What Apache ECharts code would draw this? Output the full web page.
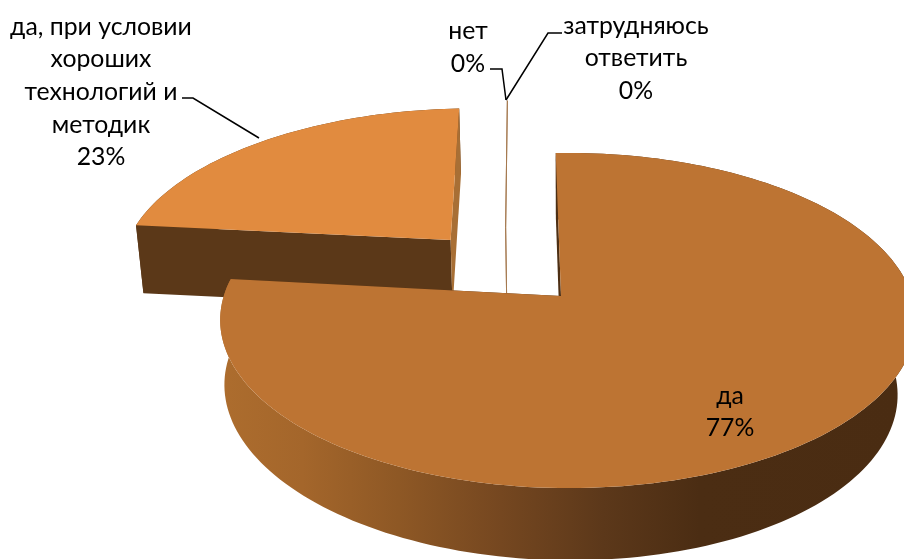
<!DOCTYPE html>
<html><head><meta charset="utf-8">
<style>html,body{margin:0;padding:0;background:#fff}#c{width:904px;height:559px}</style>
<script src="https://cdn.jsdelivr.net/npm/echarts@6/dist/echarts.min.js"></script>
</head><body><div id="c"></div>
<script>
const categories = ['да', 'да, при условии\nхороших\nтехнологий и\nметодик', 'нет', 'затрудняюсь\nответить'];
const values = [77, 23, 0, 0];

// layout
const topColors = ['#bd7433', '#e18b3f', '#a5794f', '#a5794f'];
const offsets = [[0,0],[-0.34,0.362],[-0.172,0.448],[-0.172,0.448]];
const radii = [1,1.02,1,1];
const bottomA = [333,338,338,338];
const bottomQ = [0,-0.02,-0.02,-0.02];
const bottomTilt = [5,0,0,0];
const labelPos = [[730,412],[101,92],[468,47.5],[636,58.5]];
const leaders = [null,[[182,98],[193,98],[259,138]],[[490,69],[502,69],[506,100]],[[562,33],[548,33],[506,100]]];
const CX=561, CY=296, A=344, B=164, P=0.146, Q=-0.02, B2=166.7, CY2=365, START=-1;
const total = values.reduce((a,b)=>a+b,0);
const pTop=(u,v)=>{const w=1+P*v+Q*u;return [CX+A*u/w, CY-B*v/w];};
const pBot=(u,v,i)=>{const w=1+P*v+bottomQ[i]*u;return [CX+bottomA[i]*u/w, CY2-B2*v/w+bottomTilt[i]*u/w];};

function sweep(i){
  let s=0; for(let k=0;k<i;k++) s+=values[k];
  return [START+360*s/total, START+360*(s+values[i])/total];
}
const wallGrad = new echarts.graphic.LinearGradient(220,0,905,0,[
  {offset:0,color:'#ad6d2e'},{offset:0.12,color:'#a4662b'},{offset:0.26,color:'#8e5825'},
  {offset:0.41,color:'#754720'},{offset:0.56,color:'#5c381a'},{offset:0.70,color:'#4b2d13'},{offset:1,color:'#4a2c12'}],true);

function renderItem(params, api){
  const i=params.dataIndex, val=api.value(0), [a0,a1]=sweep(i);
  const [ou,ov]=offsets[i], R=radii[i];
  const rad=d=>d*Math.PI/180, pt=(d)=>[ou+R*Math.sin(rad(d)),ov+R*Math.cos(rad(d))];
  const kids=[]; const base=i===0?20:(i===1?5:12);
  if(val===0){
    const e=pt(a0);
    kids.push({type:'polyline',z2:base,shape:{points:[pTop(e[0],e[1]),pTop(ou,ov),pBot(ou,ov,i)]},style:{stroke:topColors[i],lineWidth:1,fill:null}});
  } else {
    const n=Math.max(8,Math.ceil((a1-a0)/1.5)), arc=[];
    for(let k=0;k<=n;k++) arc.push(pt(a0+(a1-a0)*k/n));
    const s=arc[0], e=arc[n];
    // outer wall
    kids.push({type:'polygon',z2:base,shape:{points:arc.map(p=>pTop(p[0],p[1])).concat(arc.slice().reverse().map(p=>pBot(p[0],p[1],i)))},style:{fill:i===0?wallGrad:'#5b3818'}});
    // radial walls
    kids.push({type:'polygon',z2:base+1,shape:{points:[pTop(s[0],s[1]),pTop(ou,ov),pBot(ou,ov,i),pBot(s[0],s[1],i)]},style:{fill:i===0?'#4d2f14':'#5b3818'}});
    kids.push({type:'polygon',z2:base+1,shape:{points:[pTop(e[0],e[1]),pTop(ou,ov),pBot(ou,ov,i),pBot(e[0],e[1],i)]},style:{fill:i===0?'#4d2f14':'#a86f35'}});
    // top face
    kids.push({type:'polygon',z2:base+2,shape:{points:[pTop(ou,ov)].concat(arc.map(p=>pTop(p[0],p[1])))},style:{fill:topColors[i]}});
  }
  // label
  kids.push({type:'text',z2:100,x:labelPos[i][0],y:labelPos[i][1],style:{
    text:categories[i]+'\n'+Math.round(val/total*100)+'%',
    fontFamily:'Lato, "Open Sans", sans-serif',fontSize:24.8,lineHeight:32.7,fill:'#000',align:'center',verticalAlign:'middle'}});
  if(leaders[i]) kids.push({type:'polyline',z2:100,shape:{points:leaders[i]},style:{stroke:'#000',lineWidth:1.5,fill:null}});
  return {type:'group',children:kids};
}
const chart=echarts.init(document.getElementById('c'),null,{renderer:'canvas'});
chart.setOption({
  animation:false,
  backgroundColor:'#fff',
  series:[{type:'custom',coordinateSystem:'none',silent:true,renderItem,data:values.map((v,i)=>({value:[v],name:categories[i]}))}]
});
</script></body></html>
